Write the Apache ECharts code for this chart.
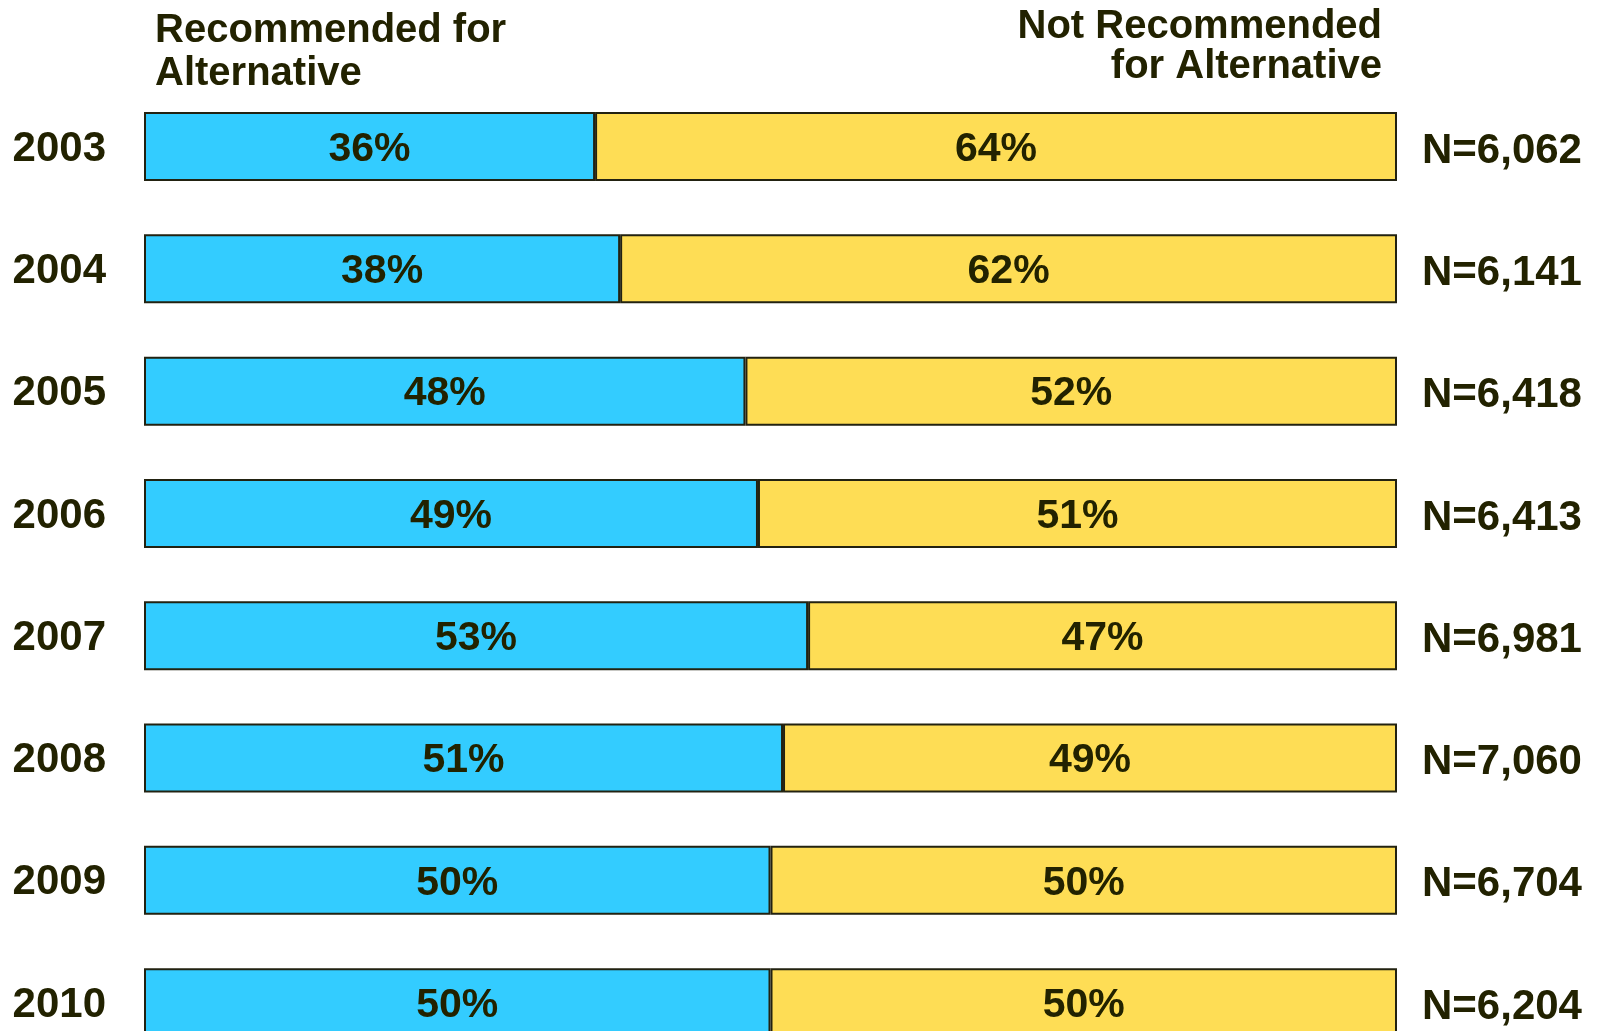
<!DOCTYPE html>
<html>
<head>
<meta charset="utf-8">
<script src="https://cdn.jsdelivr.net/npm/echarts@6/dist/echarts.min.js"></script>
<style>
html,body{margin:0;padding:0;background:#fff;}
#chart{width:1599px;height:1031px;}
</style>
</head>
<body>
<div id="chart"></div>
<script>
const years = ['2003','2004','2005','2006','2007','2008','2009','2010'];
const recommended = [36, 38, 48, 49, 53, 51, 50, 50];
const notRecommended = [64, 62, 52, 51, 47, 49, 50, 50];
const nLabels = ['N=6,062','N=6,141','N=6,418','N=6,413','N=6,981','N=7,060','N=6,704','N=6,204'];
const headerLeft = ['Recommended for', 'Alternative'];
const headerRight = ['Not Recommended', 'for Alternative'];

const FONT = '"Liberation Sans", Arial, Helvetica, sans-serif';
const TXT = '#222200';
const BORDER = '#222211';

const chart = echarts.init(document.getElementById('chart'), null, {renderer: 'canvas'});

const labelStyle = {
  show: true,
  position: 'inside',
  formatter: '{c}%',
  offset: [0, 3],
  fontFamily: FONT,
  fontWeight: 'bold',
  fontSize: 41,
  color: TXT
};

function headerText(txt, pos) {
  return Object.assign({
    type: 'text',
    style: {text: txt, fontFamily: FONT, fontWeight: 'bold', fontSize: 40, fill: TXT}
  }, pos);
}

function richLabel(shift) {
  return {
    t: {fontFamily: FONT, fontWeight: 'bold', fontSize: 42, color: TXT, padding: [shift, 0, 0, 0]}
  };
}

chart.setOption({
  backgroundColor: '#ffffff',
  animation: false,
  grid: {left: 144, right: 202, top: 85.4, height: 978.4, containLabel: false, outerBoundsMode: 'none'},
  xAxis: {
    type: 'value', min: 0, max: 100,
    show: false
  },
  yAxis: [
    {
      type: 'category', data: years, inverse: true, position: 'left',
      axisLine: {show: false}, axisTick: {show: false}, splitLine: {show: false},
      axisLabel: {
        margin: 38, align: 'right', fontFamily: FONT, fontWeight: 'bold',
        fontSize: 42, color: TXT,
        formatter: v => '{t|' + v + '}', rich: richLabel(5)
      }
    },
    {
      type: 'category', data: nLabels, inverse: true, position: 'right',
      axisLine: {show: false}, axisTick: {show: false}, splitLine: {show: false},
      axisLabel: {
        margin: 25, align: 'left', fontFamily: FONT, fontWeight: 'bold',
        fontSize: 42, color: TXT,
        formatter: v => '{t|' + v + '}', rich: richLabel(9)
      }
    }
  ],
  series: [
    {
      name: 'Recommended for Alternative',
      type: 'bar', stack: 'total', barWidth: 69,
      data: recommended,
      itemStyle: {color: '#33CCFF', borderColor: BORDER, borderWidth: 2},
      label: labelStyle
    },
    {
      name: 'Not Recommended for Alternative',
      type: 'bar', stack: 'total', barWidth: 69,
      data: notRecommended,
      itemStyle: {color: '#FEDD55', borderColor: BORDER, borderWidth: 2},
      label: labelStyle
    }
  ],
  graphic: [
    headerText(headerLeft[0], {left: 155, top: 11}),
    headerText(headerLeft[1], {left: 155, top: 54}),
    headerText(headerRight[0], {right: 217, top: 7}),
    headerText(headerRight[1], {right: 217, top: 47})
  ]
});
</script>
</body>
</html>
